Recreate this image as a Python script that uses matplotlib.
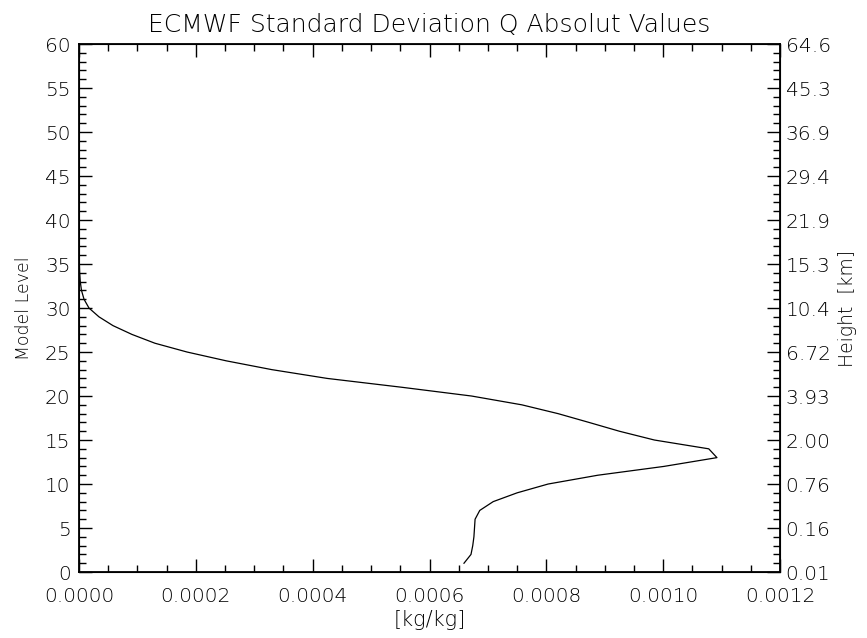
import matplotlib
matplotlib.use('Agg')
import matplotlib.pyplot as plt
from matplotlib.ticker import MultipleLocator, FixedLocator

# standard deviation of specific humidity per model level (level 1 = surface)
levels = list(range(1, 61))
std_q = [
    0.000659, 0.000671, 0.000674, 0.000676, 0.000677, 0.000678, 0.000686, 0.000709,
    0.000750, 0.000803, 0.000888, 0.001001, 0.001092, 0.001078, 0.000985, 0.000925,
    0.000873, 0.000820, 0.000758, 0.000672, 0.000552, 0.000425, 0.000330, 0.000252,
    0.000185, 0.000130, 0.0000907, 0.0000582, 0.0000342, 0.0000171, 0.0000086, 0.0000043,
    0.0000022, 0.0000012, 0.0000007, 0.0000004, 0.0000003, 0.0000002, 0.0000002, 0.0000001,
    0.0000001, 0.0000001, 0.0000001, 0.0000001, 0.0000001, 0.0000001, 0.0000001, 0.0000001,
    0.0000001, 0.0000001, 0.0000001, 0.0000001, 0.0000001, 0.0000001, 0.0000001, 0.0000001,
    0.0000001, 0.0000001, 0.0000001, 0.0000001,
]

level_ticks = list(range(0, 61, 5))
height_labels = ['0.01', '0.16', '0.76', '2.00', '3.93', '6.72', '10.4',
                 '15.3', '21.9', '29.4', '36.9', '45.3', '64.6']
x_ticks = [0.0, 0.0002, 0.0004, 0.0006, 0.0008, 0.0010, 0.0012]

plt.rcParams['font.family'] = 'DejaVu Sans'
plt.rcParams['font.weight'] = 'light'
plt.rcParams['axes.titleweight'] = 'light'
plt.rcParams['axes.labelweight'] = 'light'
plt.rcParams['text.color'] = 'black'

fig = plt.figure(figsize=(8.67, 6.38), dpi=100)
ax = fig.add_axes([0.0911, 0.1034, 0.8086, 0.8276])

ax.plot(std_q, levels, color='black', lw=0.9)

ax.set_xlim(0, 0.0012)
ax.set_ylim(0, 60)
ax.set_xticks(x_ticks)
ax.set_xticklabels([f'{v:.4f}' for v in x_ticks])
ax.xaxis.set_minor_locator(MultipleLocator(0.00005))
ax.set_yticks(level_ticks)
ax.yaxis.set_minor_locator(MultipleLocator(1))

for s in ax.spines.values():
    s.set_linewidth(1.3)

ax.tick_params(which='both', direction='in', top=True, right=False, labelsize=14.5,
               width=1.0, labelcolor='black')
ax.tick_params(axis='x', pad=11)
ax.tick_params(axis='y', pad=6)
ax.tick_params(which='major', length=9.5)
ax.tick_params(which='minor', length=5)

# second axis on the right: approximate height of each model level
ax2 = ax.twinx()
ax2.set_ylim(0, 60)
ax2.yaxis.set_major_locator(FixedLocator(level_ticks))
ax2.set_yticklabels(height_labels)
ax2.yaxis.set_minor_locator(MultipleLocator(1))
ax2.tick_params(which='both', direction='in', labelsize=14.5, width=1.0, pad=4,
                labelcolor='black')
ax2.tick_params(which='major', length=9.5)
ax2.tick_params(which='minor', length=5)
ax2.set_ylabel('Height  [km]', fontsize=13.5, labelpad=5)

ax.set_ylabel('Model Level', fontsize=12.5, labelpad=9)
ax.set_xlabel('[kg/kg]', fontsize=15, labelpad=3)
ax.set_title('ECMWF Standard Deviation Q Absolut Values', fontsize=18, pad=9)

fig.savefig('out.png', dpi=100)
